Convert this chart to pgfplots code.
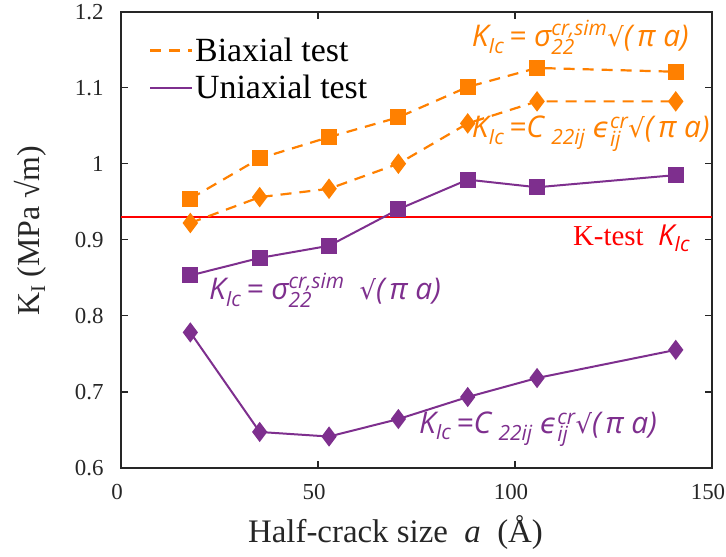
\documentclass[border=0pt]{standalone}
\usepackage{fontspec}
\setmainfont{Liberation Serif}
\newfontfamily\annfont{Open Sans}[ItalicFont={Open Sans Italic}]
\newfontfamily\symfont{DejaVu Sans}
\usepackage{pgfplots}
\pgfplotsset{compat=1.18}

\definecolor{biax}{RGB}{255,128,0}
\definecolor{uniax}{RGB}{126,47,142}
\definecolor{axgray}{RGB}{38,38,38}

% pieces of the formula annotations
\newcommand\T[1]{\hbox{\annfont\itshape #1}}
\newcommand\s[1]{\hbox{\annfont\itshape\fontsize{21}{21}\selectfont #1}}
\newcommand\sq{\hbox{\symfont\fontsize{26}{26}\selectfont √}}
\newcommand\eps{\hbox{\symfont\itshape\fontsize{28}{28}\selectfont ϵ}}

\pgfplotstableread{
x     bsq    bdi    usq    udi
17.6  0.954  0.922  0.853  0.778
35.2  1.007  0.956  0.876  0.647
52.8  1.035  0.967  0.892  0.641
70.4  1.061  1.000  0.940  0.664
88.0  1.101  1.053  0.979  0.693
105.6 1.126  1.082  0.969  0.718
140.8 1.121  1.082  0.985  0.755
}\kdata

\begin{document}
\begin{tikzpicture}
\begin{axis}[
  at={(0,0)}, anchor=south west,
  scale only axis, width=591bp, height=456bp,
  xmin=0, xmax=150, ymin=0.6, ymax=1.2,
  xtick={0,50,100,150},
  ytick={0.6,0.7,0.8,0.9,1,1.1,1.2},
  yticklabels={0.6,0.7,0.8,0.9,1,1.1,1.2},
  tick align=inside, major tick length=7bp,
  tick style={axgray, line width=1.6bp},
  axis line style={axgray, line width=2.2bp},
  ticklabel style={font=\fontsize{23}{25}\selectfont, text=axgray},
  /pgf/number format/assume math mode=true,
  xticklabel style={yshift=-13bp, xshift=-4bp},
  yticklabel style={xshift=-14bp},
  xlabel={Half-crack size\ \ \textit{a}\ \ (Å)},
  xlabel style={font=\fontsize{33}{35}\selectfont, text=axgray,
    at={(axis description cs:0.4645,-0.1645)}, anchor=base},
  ylabel={K\raisebox{-6bp}{\fontsize{21}{21}\selectfont I} (MPa √m)},
  ylabel style={font=\fontsize{32}{34}\selectfont, text=axgray,
    at={(axis description cs:-0.154,0.52)}, anchor=center},
  legend style={at={(0.047,0.947)}, anchor=north west, draw=none, fill=none,
    font=\fontsize{34}{38}\selectfont, row sep=8bp, inner sep=0pt,
    /tikz/every even column/.append style={column sep=0bp}},
  legend cell align=left,
  legend image code/.code={\draw[#1] (0bp,0bp) -- (42bp,0bp);},
  clip=false,
]
\addlegendimage{biax, line width=2.2bp, dash pattern=on 11bp off 8bp}
\addlegendentry{Biaxial test}
\addlegendimage{uniax, line width=2bp}
\addlegendentry{Uniaxial test}

\addplot[forget plot, red, line width=2bp] coordinates {(0,0.93) (150,0.93)};

\addplot[forget plot, biax, line width=2.2bp, dash pattern=on 11bp off 8bp,
  mark=square*, mark size=7bp, mark options={solid, fill=biax, draw=biax}]
  table[x=x, y=bsq] {\kdata};
\addplot[forget plot, biax, line width=2.2bp, dash pattern=on 11bp off 8bp,
  mark=diamond*, mark size=8.5bp, mark options={solid, fill=biax, draw=biax}]
  table[x=x, y=bdi] {\kdata};
\addplot[forget plot, uniax, line width=2bp,
  mark=square*, mark size=7bp, mark options={fill=uniax, draw=uniax}]
  table[x=x, y=usq] {\kdata};
\addplot[forget plot, uniax, line width=2bp,
  mark=diamond*, mark size=8.5bp, mark options={fill=uniax, draw=uniax}]
  table[x=x, y=udi] {\kdata};

% formula annotations
\node[anchor=base west, text=biax, inner sep=0pt, font=\fontsize{30}{32}\selectfont]
  at (axis cs:89,1.154) {$\T{K}_{\s{Ic}}\T{\,= σ}^{\s{cr,sim}}_{\s{22}}\sq\T{(\,π a)}$};
\node[anchor=base west, text=biax, inner sep=0pt, font=\fontsize{30}{32}\selectfont]
  at (axis cs:89,1.034) {$\T{K}_{\s{Ic}}\T{\,=C}\ _{\s{22ij}}\ \eps^{\s{cr}}_{\s{ij}}\sq\T{(\,π a)}$};
\node[anchor=base west, text=uniax, inner sep=0pt, font=\fontsize{30}{32}\selectfont]
  at (axis cs:22.3,0.821) {$\T{K}_{\s{Ic}}\T{\,= σ}^{\s{cr,sim}}_{\s{22}}\ \ \sq\T{(\,π a)}$};
\node[anchor=base west, text=uniax, inner sep=0pt, font=\fontsize{30}{32}\selectfont]
  at (axis cs:75.6,0.645) {$\T{K}_{\s{Ic}}\T{\,=C}\ _{\s{22ij}}\ \eps^{\s{cr}}_{\s{ij}}\sq\T{(\,π a)}$};
\node[anchor=base west, text=red, inner sep=0pt, font=\fontsize{29}{31}\selectfont]
  at (axis cs:114.7,0.893) {K-test\ \ $\T{K}_{\s{Ic}}$};
\end{axis}
\pgfresetboundingbox
\path[use as bounding box] (-121bp,-89bp) rectangle (605bp,467.7bp);
\end{tikzpicture}
\end{document}
